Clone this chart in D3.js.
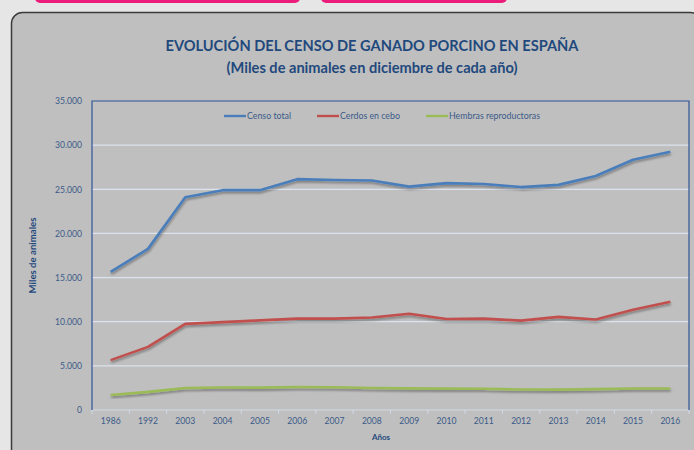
<!DOCTYPE html>
<html><head><meta charset="utf-8">
<script src="https://cdn.jsdelivr.net/npm/d3@7"></script>
<style>html,body{margin:0;padding:0;background:#e6e6e6;overflow:hidden}</style>
</head><body>
<svg id="c" width="694" height="450"></svg>
<script>
const years = ["1986","1992","2003","2004","2005","2006","2007","2008","2009","2010","2011","2012","2013","2014","2015","2016"];
const censoTotal = [15650,18250,24100,24900,24900,26150,26050,26000,25300,25700,25600,25250,25500,26500,28350,29250];
const cerdosCebo = [5650,7150,9750,9950,10150,10350,10350,10480,10900,10300,10350,10120,10550,10250,11350,12250];
const hembras = [1700,2050,2500,2550,2540,2600,2580,2490,2450,2420,2400,2320,2310,2370,2440,2430];
const yTicks = [0,5000,10000,15000,20000,25000,30000,35000];
const seriesNames = ["Censo total","Cerdos en cebo","Hembras reproductoras"];
const colors = ["#4a7ebb","#c0504d","#9bbb59"];
const series = [censoTotal, cerdosCebo, hembras];

const svg = d3.select("#c");
const font = "Lato, 'Open Sans', sans-serif";
const dark = "#1f497d", tickC = "#3b5a88";

// top pink tabs
svg.append("rect").attr("x",35).attr("y",-10).attr("width",265).attr("height",13).attr("rx",5).attr("fill","#ec1c7c");
svg.append("rect").attr("x",321).attr("y",-10).attr("width",186).attr("height",13).attr("rx",5).attr("fill","#ec1c7c");

// panel
svg.append("rect").attr("x",11.5).attr("y",12.5).attr("width",690).attr("height",460).attr("rx",11)
  .attr("fill","#bfbfbf").attr("stroke","#3a3a3a").attr("stroke-width",1.5);

const defs = svg.append("defs");
const f = defs.append("filter").attr("id","sh").attr("x","-10%").attr("y","-50%").attr("width","120%").attr("height","200%");
f.append("feDropShadow").attr("dx",0.5).attr("dy",2).attr("stdDeviation",1.2).attr("flood-color","#000").attr("flood-opacity",0.35);

const L=92, R=689, T=101, B=410;
const x = d3.scaleBand().domain(years).range([L,R]);
const y = d3.scaleLinear().domain([0,35000]).range([B,T]);

// title
svg.append("text").attr("x",372).attr("y",51).attr("text-anchor","middle").attr("font-family",font)
  .attr("font-weight","bold").attr("font-size",14.6).attr("fill",dark).text("EVOLUCIÓN DEL CENSO DE GANADO PORCINO EN ESPAÑA");
svg.append("text").attr("x",372).attr("y",73).attr("text-anchor","middle").attr("font-family",font)
  .attr("font-weight","bold").attr("font-size",14.6).attr("fill",dark).text("(Miles de animales en diciembre de cada año)");

// gridlines
const g = svg.append("g");
g.selectAll("line.grid").data(yTicks.filter(d=>d>0 && d<35000)).join("line")
  .attr("x1",L).attr("x2",R).attr("y1",d=>y(d)).attr("y2",d=>y(d))
  .attr("stroke","#dbe3ee").attr("stroke-width",1.2);

// y axis
const yAxis = d3.axisLeft(y).tickValues(yTicks).tickSize(0).tickPadding(10)
  .tickFormat(d=>d===0?"0":d3.format(",")(d).replace(/,/g,"."));
const ya = svg.append("g").attr("transform",`translate(${L},0)`).call(yAxis);
ya.select(".domain").remove();
ya.selectAll("text").attr("font-family",font).attr("font-size",8.6).attr("fill",tickC);

// x axis
const xAxis = d3.axisBottom(x).tickSize(0).tickPadding(8);
const xa = svg.append("g").attr("transform",`translate(0,${B})`).call(xAxis);
xa.select(".domain").remove();
xa.selectAll("text").attr("font-family",font).attr("font-size",8.6).attr("fill",tickC);
// band boundary ticks
const bounds = years.map(d=>x(d)).concat([R]);
svg.selectAll("line.xt").data(bounds).join("line").attr("x1",d=>d).attr("x2",d=>d)
  .attr("y1",B).attr("y2",B+4).attr("stroke","#d0dae8").attr("stroke-width",1);
svg.append("line").attr("x1",L).attr("x2",R).attr("y1",B).attr("y2",B).attr("stroke","#d0dae8").attr("stroke-width",1.2);

// plot border (top, left, right)
svg.append("path").attr("d",`M${L},${B}V${T}H${R}V${B}`).attr("fill","none").attr("stroke","#2f5496").attr("stroke-width",1.2);

// lines
const line = d3.line().x((d,i)=>x(years[i])+x.bandwidth()/2).y(d=>y(d));
series.forEach((s,i)=>{
  svg.append("path").datum(s).attr("d",line).attr("fill","none").attr("stroke",colors[i])
    .attr("stroke-width",2.6).attr("stroke-linejoin","round").attr("filter","url(#sh)");
});

// legend
const legX = [224,317,426];
seriesNames.forEach((n,i)=>{
  svg.append("line").attr("x1",legX[i]).attr("x2",legX[i]+22).attr("y1",116).attr("y2",116)
    .attr("stroke",colors[i]).attr("stroke-width",2.4);
  svg.append("text").attr("x",legX[i]+23).attr("y",119).attr("font-family",font).attr("font-size",8.8)
    .attr("fill",tickC).text(n);
});

// axis titles
svg.append("text").attr("transform",`translate(36,${(T+B)/2}) rotate(-90)`).attr("text-anchor","middle")
  .attr("font-family",font).attr("font-weight","bold").attr("font-size",9.6).attr("fill",dark).text("Miles de animales");
svg.append("text").attr("x",381).attr("y",440).attr("text-anchor","middle").attr("font-family",font)
  .attr("font-weight","bold").attr("font-size",8).attr("fill",dark).text("Años");
</script>
</body></html>
